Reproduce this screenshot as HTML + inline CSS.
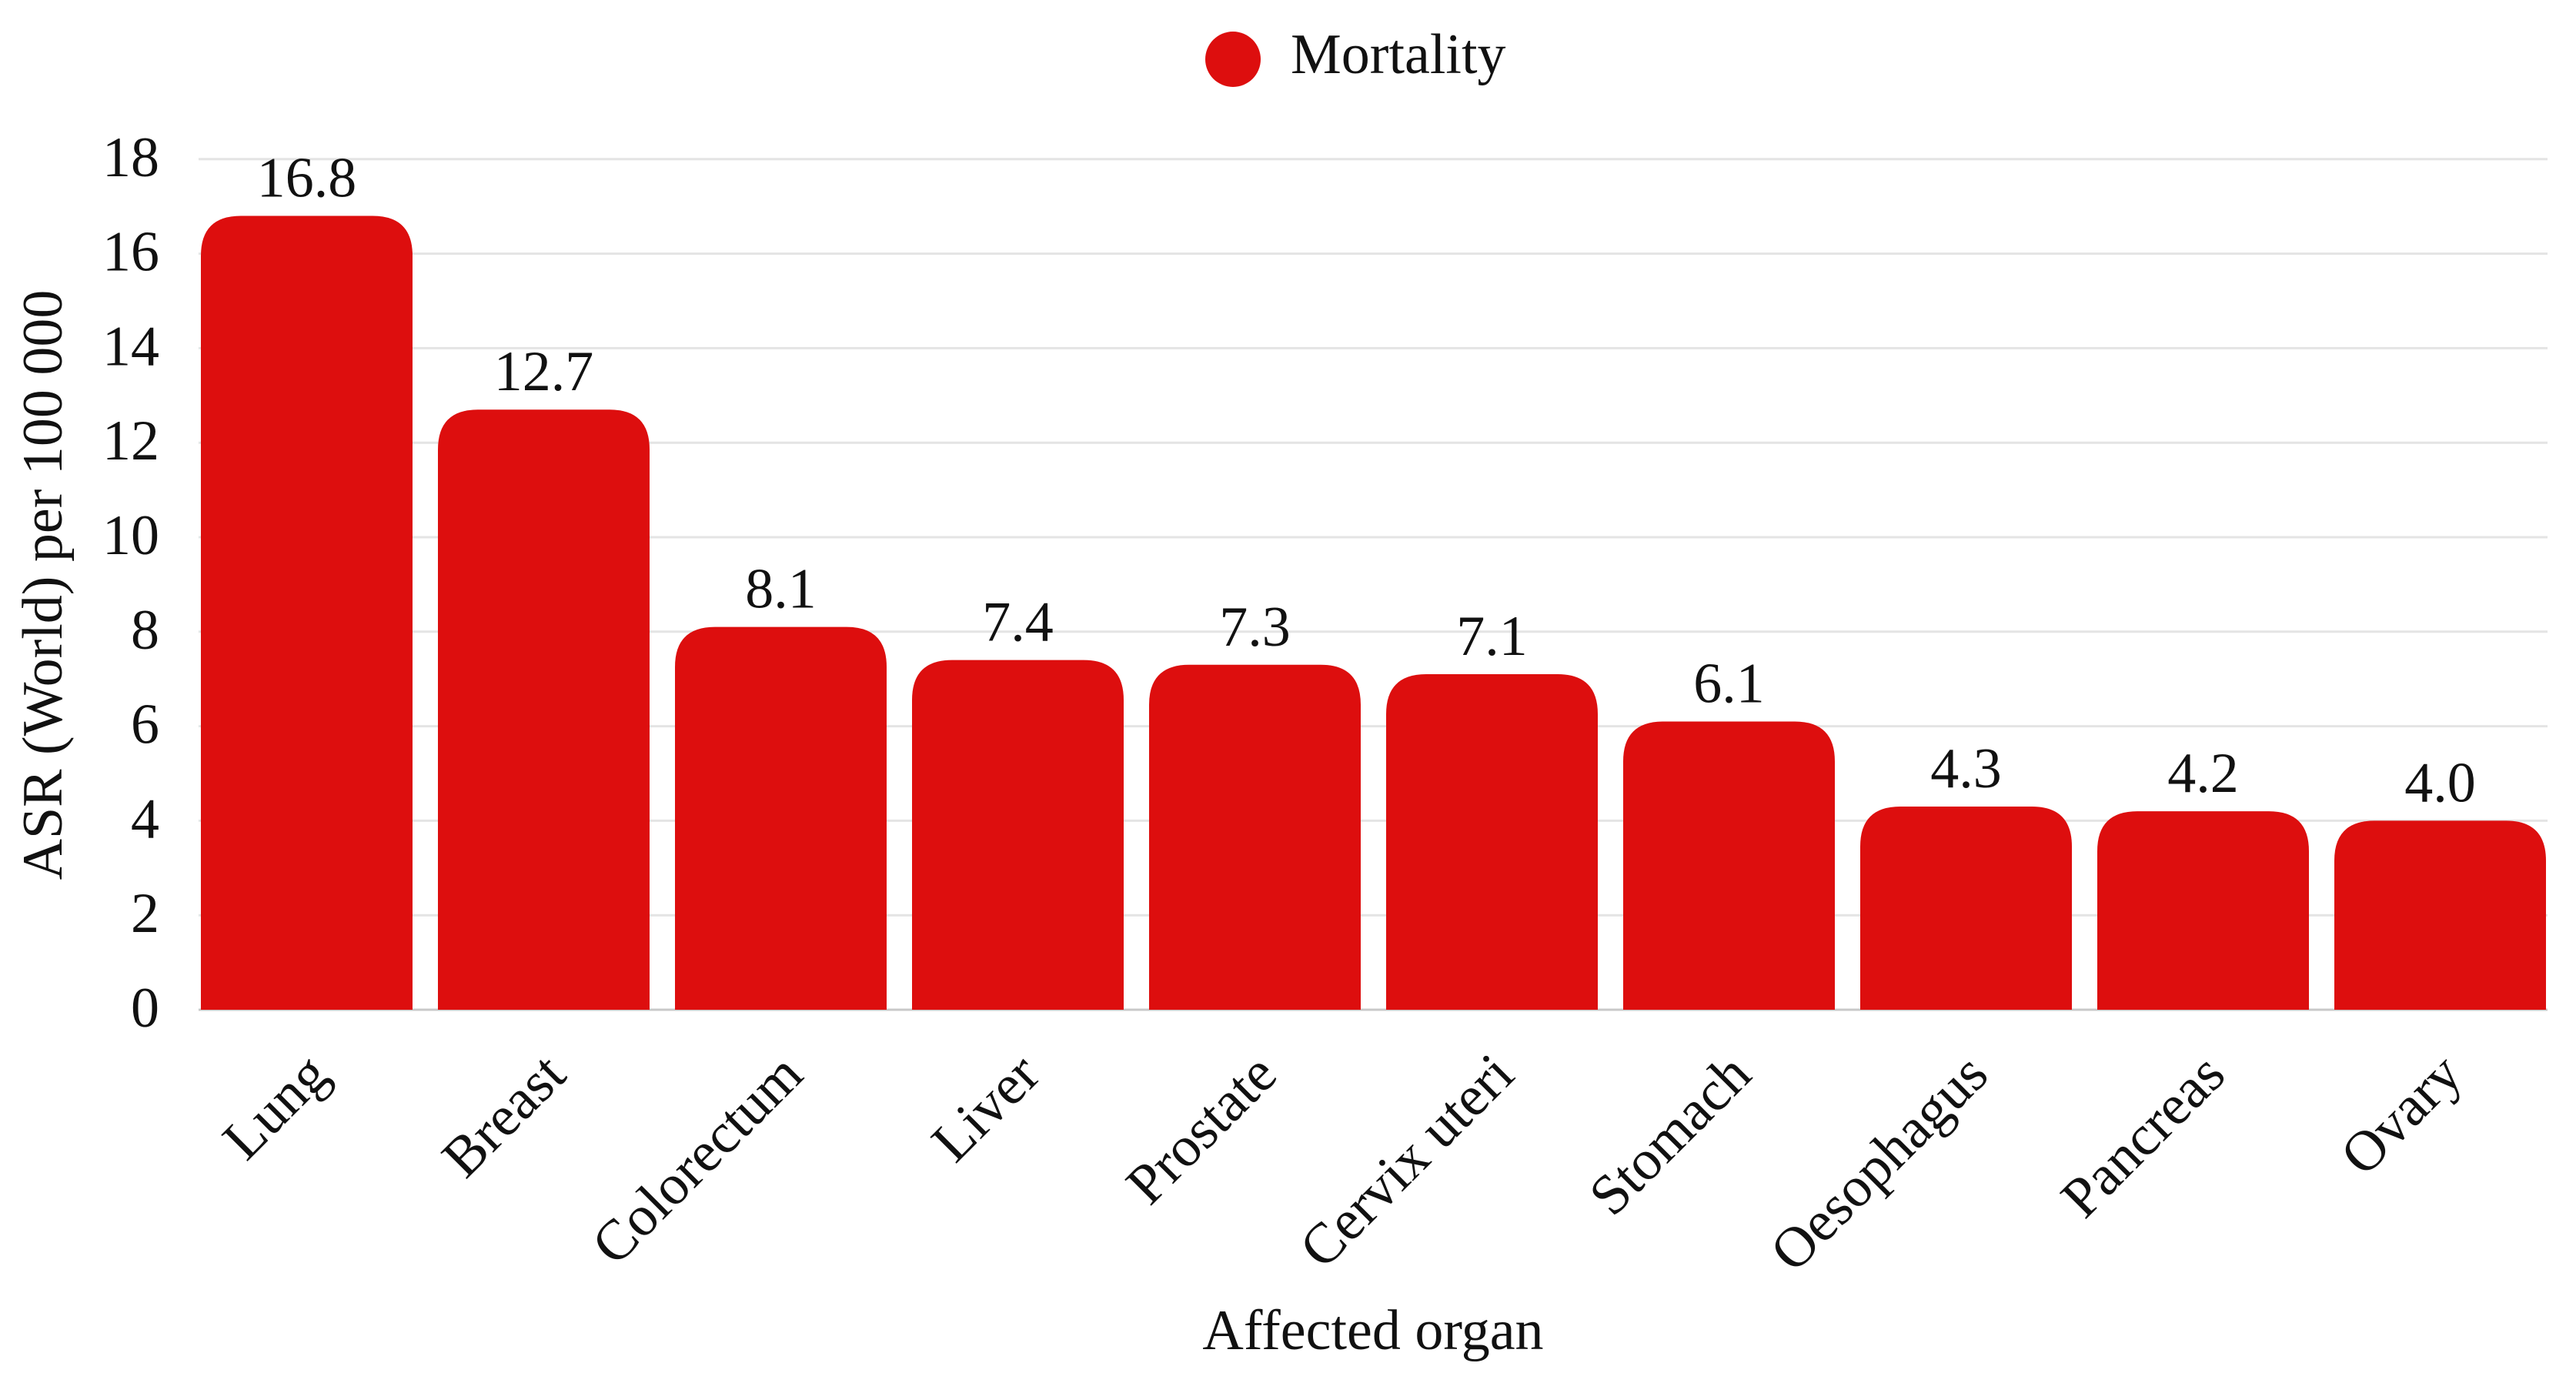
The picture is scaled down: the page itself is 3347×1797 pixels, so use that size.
<!DOCTYPE html>
<html><head><meta charset="utf-8"><style>
html,body{margin:0;padding:0;background:#fff;}
svg{display:block;}
svg text{font-family:"Liberation Serif","DejaVu Serif","Times New Roman",serif;}
</style></head><body>
<svg id="chart" width="3347" height="1797" viewBox="0 0 3347 1797">
  <g id="grid"></g>
  <g id="yticks"></g>
  <g id="bars"></g>
  <g id="xlabels"></g>
  <g>
    <circle cx="1602" cy="77" r="36" fill="#DD0E0E"/>
    <text x="1677" y="95" font-family="Liberation Serif, serif" font-size="74" fill="#111">Mortality</text>
  </g>
  <text transform="translate(80,760) rotate(-90)" text-anchor="middle" font-family="Liberation Serif, serif" font-size="74" fill="#111">ASR (World) per 100 000</text>
  <text x="1784" y="1753" text-anchor="middle" font-family="Liberation Serif, serif" font-size="74" fill="#111">Affected organ</text>
</svg>
<script>
const categories = ["Lung","Breast","Colorectum","Liver","Prostate","Cervix uteri","Stomach","Oesophagus","Pancreas","Ovary"];
const values = [16.8,12.7,8.1,7.4,7.3,7.1,6.1,4.3,4.2,4.0];
const valueLabels = ["16.8","12.7","8.1","7.4","7.3","7.1","6.1","4.3","4.2","4.0"];
const yTicks = [0,2,4,6,8,10,12,14,16,18];

const NS="http://www.w3.org/2000/svg";
const plotLeft=258, plotRight=3310, y0=1312, unit=61.4;
const band=308, barW=275, firstBar=261, R=52;
function yScale(v){return y0 - v*unit;}
function xBar(i){return firstBar + i*band;}
function mk(tag,attrs,parent){const e=document.createElementNS(NS,tag);for(const k in attrs)e.setAttribute(k,attrs[k]);parent.appendChild(e);return e;}
const FF="Liberation Serif, serif";

const grid=document.getElementById('grid'), yt=document.getElementById('yticks');
yTicks.forEach(t=>{
  const y=yScale(t);
  const l=mk('line',{x1:plotLeft,x2:plotRight,y1:y,y2:y,stroke:t===0?'#c8c8c8':'#e4e4e4','stroke-width':3},grid);
  
  
  const tx=mk('text',{x:207,y:y+22,'text-anchor':'end','font-size':74,'font-family':FF,fill:'#111'},yt);
  tx.textContent=String(t);
  
  
});

const bars=document.getElementById('bars'), xl=document.getElementById('xlabels');
categories.forEach((c,i)=>{
  const x=xBar(i), top=yScale(values[i]), bot=yScale(0), r=Math.min(R,(bot-top));
  const d=`M${x},${bot} L${x},${top+r} Q${x},${top} ${x+r},${top} L${x+barW-r},${top} Q${x+barW},${top} ${x+barW},${top+r} L${x+barW},${bot} Z`;
  const p=mk('path',{d:d,fill:'#DD0E0E'},bars);
  
  
  const v=mk('text',{x:x+barW/2,y:top-25,'text-anchor':'middle','font-size':74,'font-family':FF,fill:'#111'},bars);
  v.textContent=valueLabels[i];
  
  
  const cx=x+barW/2+32, cy=1400;
  const lt=mk('text',{x:cx,y:cy,'text-anchor':'end','font-size':74,'font-family':FF,fill:'#111',transform:`rotate(-45 ${cx} ${cy})`},xl);
  lt.textContent=c;
  
  
});
</script>
</body></html>
